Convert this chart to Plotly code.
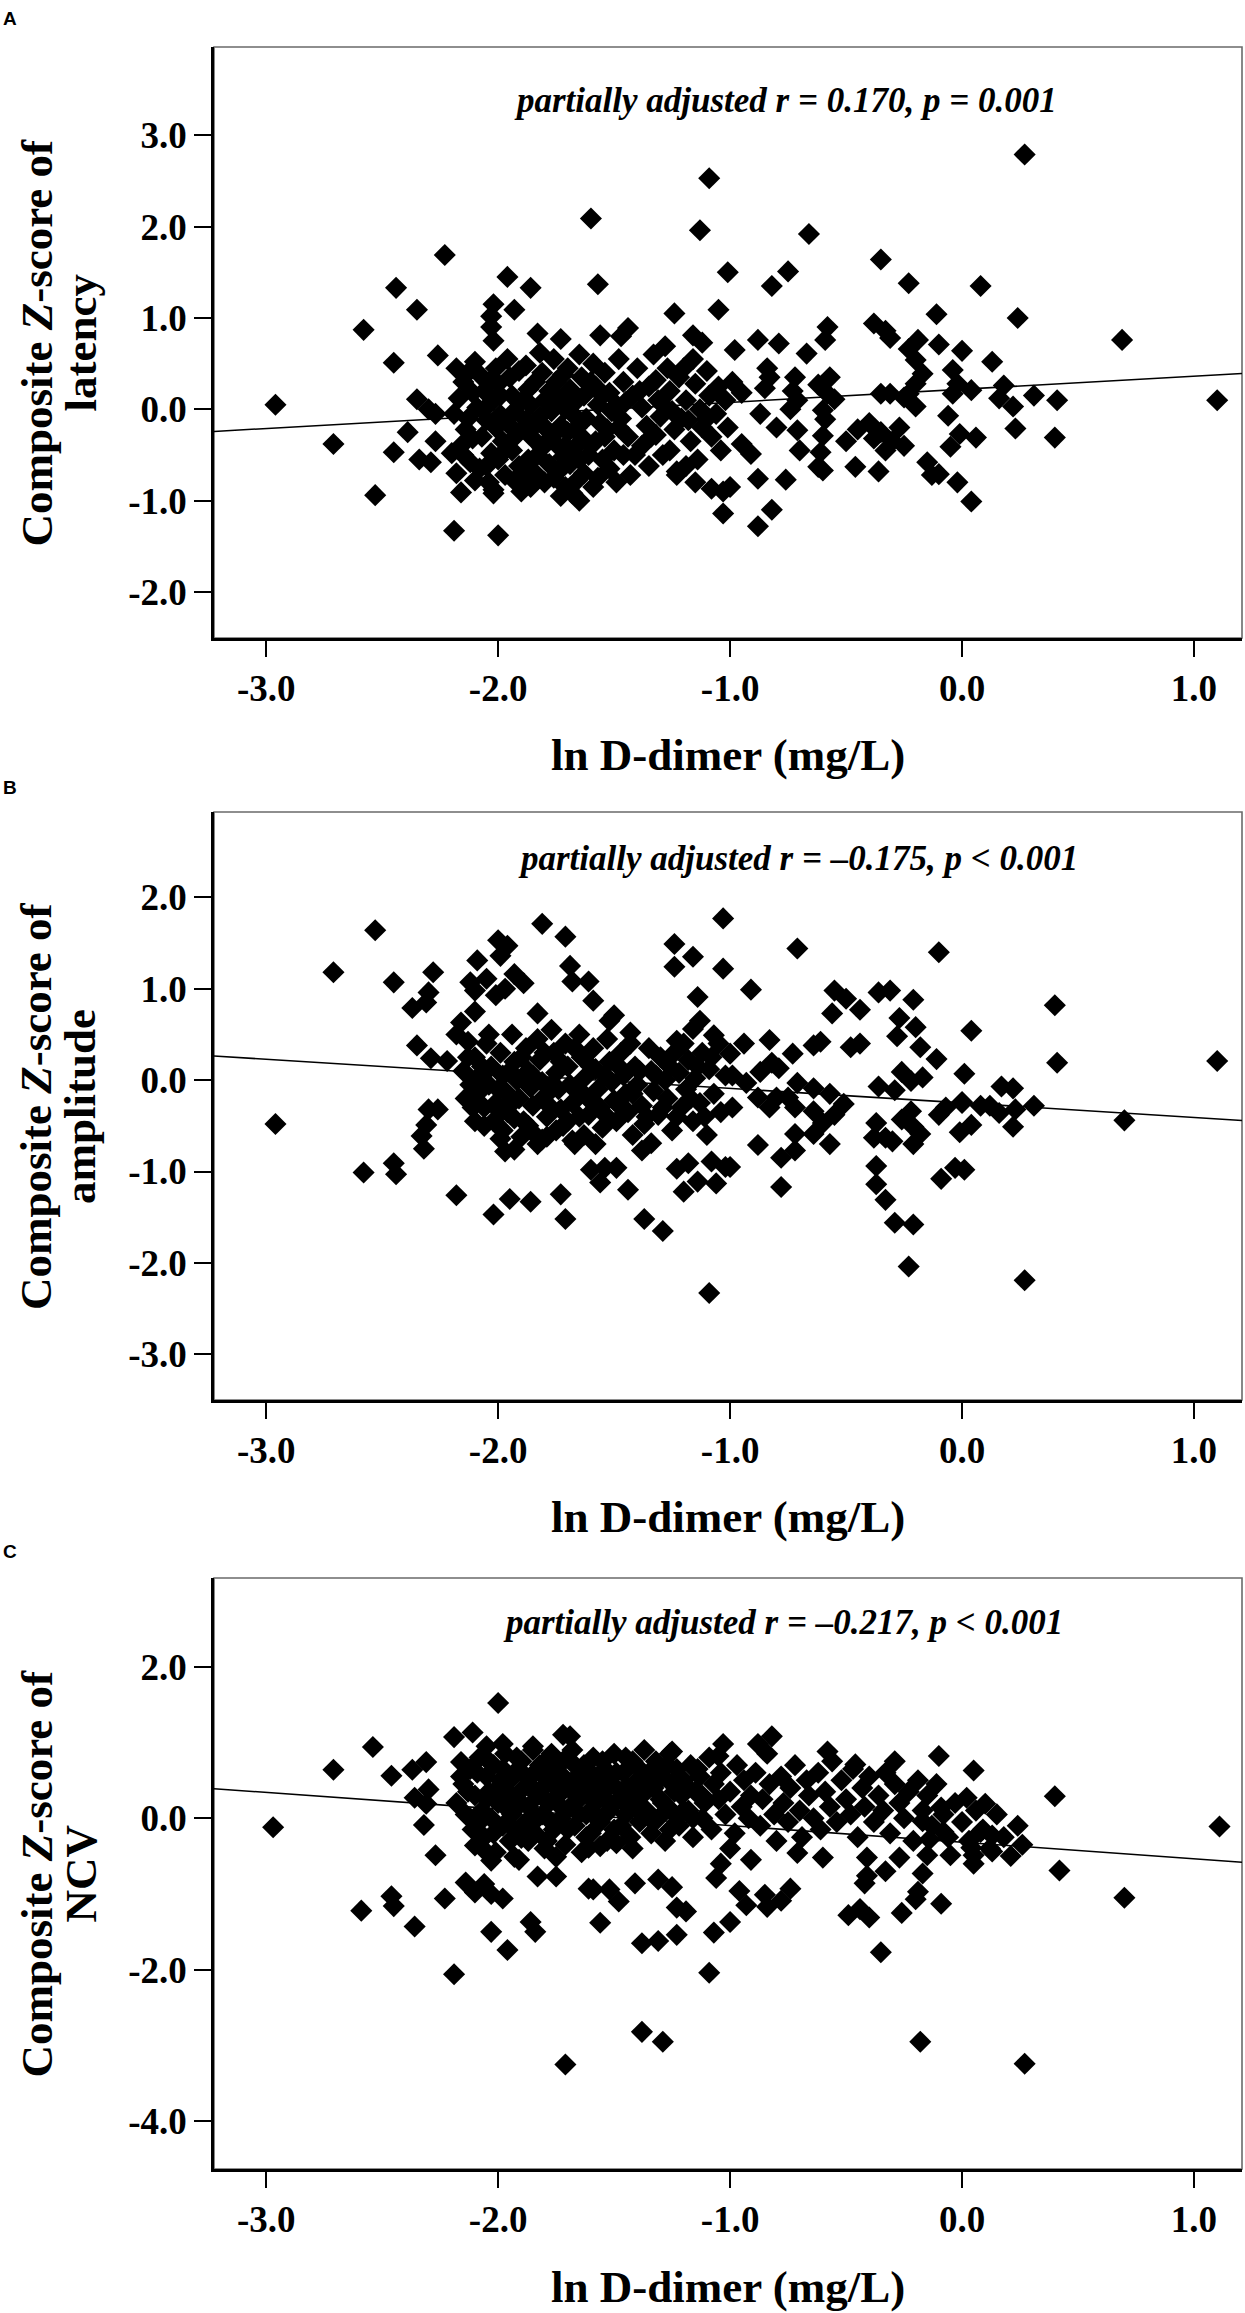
import plotly.graph_objects as go

# ln D-dimer (mg/L) vs composite Z-scores

# panel A - latency
latency_pts = [
    (-2.96, 0.05), (-2.71, -0.38), (-2.53, -0.94), (-2.58, 0.87), (-2.44, 1.33), (-2.35, 1.09),
    (-2.45, 0.51), (-2.23, 1.69), (-2.45, -0.47), (-2.35, 0.11), (-2.26, 0.59), (-2.39, -0.25),
    (-2.34, -0.55), (-2.29, -0.58), (-2.30, 0.00), (-2.27, -0.05), (-2.27, -0.35), (-2.19, -1.33),
    (-2.00, -1.38), (-2.16, -0.91), (-2.02, -0.92), (-1.96, 1.45), (-1.86, 1.33), (-1.93, 1.09),
    (-2.02, 1.15), (-2.03, 1.02), (-2.03, 0.90), (-2.02, 0.75), (-1.60, 2.09), (-1.57, 1.37),
    (-1.09, 2.53), (-1.13, 1.96), (-1.01, 1.50), (-1.83, 0.83), (-1.73, 0.77), (-1.56, 0.81),
    (-1.44, 0.89), (-1.47, 0.80), (-1.24, 1.05), (-1.05, 1.09), (-1.03, -1.14), (-1.08, -0.87),
    (-1.03, -0.90), (-1.28, 0.69), (-1.16, 0.81), (-1.12, 0.73), (-2.20, -0.48), (-1.23, -0.72),
    (-1.19, -0.62), (-1.15, -0.80), (-1.00, -0.85),
    # dense core
    (-2.18, 0.45), (-2.15, 0.30), (-2.17, 0.12), (-2.19, -0.05), (-2.14, -0.22), (-2.16, -0.40),
    (-2.12, -0.58), (-2.18, -0.70), (-2.10, 0.52), (-2.08, 0.38), (-2.06, 0.20), (-2.09, 0.02),
    (-2.05, -0.12), (-2.07, -0.30), (-2.03, -0.48), (-2.08, -0.65), (-2.04, -0.80), (-2.01, 0.45),
    (-2.00, 0.28), (-2.02, 0.10), (-1.99, -0.06), (-2.01, -0.20), (-1.98, -0.35), (-2.00, -0.55),
    (-1.97, -0.72), (-2.02, -0.88), (-1.95, 0.35), (-1.94, 0.15), (-1.93, -0.02), (-1.95, -0.18),
    (-1.92, -0.28), (-1.94, -0.45), (-1.91, -0.62), (-1.93, -0.78), (-1.90, -0.90), (-1.88, 0.48),
    (-1.87, 0.22), (-1.86, 0.05), (-1.88, -0.12), (-1.85, -0.32), (-1.87, -0.55), (-1.84, -0.70),
    (-1.86, -0.85), (-1.82, 0.62), (-1.81, 0.40), (-1.80, 0.10), (-1.82, -0.08), (-1.79, -0.22),
    (-1.81, -0.42), (-1.78, -0.60), (-1.80, -0.80), (-1.76, 0.55), (-1.75, 0.30), (-1.74, 0.12),
    (-1.77, -0.02), (-1.73, -0.18), (-1.75, -0.38), (-1.72, -0.52), (-1.74, -0.68), (-1.71, -0.85),
    (-1.73, -0.95), (-1.70, 0.45), (-1.69, 0.22), (-1.68, -0.05), (-1.70, -0.25), (-1.67, -0.42),
    (-1.69, -0.60), (-1.66, -0.78), (-1.68, -0.92), (-1.65, 0.60), (-1.64, 0.35), (-1.63, 0.15),
    (-1.62, -0.10), (-1.64, -0.30), (-1.61, -0.50), (-1.63, -0.70), (-1.65, -1.00), (-1.59, 0.50),
    (-1.58, 0.25), (-1.57, 0.05), (-1.56, -0.15), (-1.58, -0.35), (-1.55, -0.55), (-1.57, -0.75),
    (-1.54, 0.40), (-1.52, 0.18), (-1.51, -0.02), (-1.53, -0.22), (-1.50, -0.45), (-1.52, -0.65),
    (-1.49, -0.80), (-1.48, 0.55), (-1.46, 0.30), (-1.45, 0.08), (-1.47, -0.10), (-1.44, -0.30),
    (-1.46, -0.50), (-1.43, -0.72), (-1.40, 0.45), (-1.39, 0.20), (-1.38, 0.02), (-1.36, -0.18),
    (-1.38, -0.40), (-1.35, -0.62), (-1.33, 0.60), (-1.32, 0.32), (-1.31, 0.10), (-1.30, -0.08),
    (-1.32, -0.28), (-1.29, -0.50), (-1.27, 0.45), (-1.26, 0.20), (-1.25, -0.02), (-1.24, -0.22),
    (-1.26, -0.45), (-1.23, -0.68), (-1.22, 0.35), (-1.19, 0.10), (-1.18, -0.12), (-1.17, -0.35),
    (-1.16, 0.55), (-1.15, 0.28), (-1.13, 0.00), (-1.12, -0.20), (-1.14, -0.55), (-1.10, 0.42),
    (-1.09, 0.15), (-1.08, -0.30), (-1.06, -0.05), (-1.05, 0.25), (-1.04, -0.45), (-1.02, 0.10),
    (-1.01, -0.20),
    (-2.13, 0.40), (-2.11, 0.18), (-2.13, -0.10), (-2.11, -0.32), (-2.15, -0.50), (-2.10, -0.78),
    (-2.06, 0.00), (-2.04, 0.30), (-2.05, -0.62), (-1.99, 0.15), (-1.97, -0.45), (-1.96, 0.55),
    (-1.91, 0.42), (-1.90, 0.08), (-1.89, -0.20), (-1.89, -0.70), (-1.84, 0.30), (-1.83, -0.15),
    (-1.83, -0.50), (-1.78, 0.20), (-1.77, -0.30), (-1.76, -0.75), (-1.72, 0.38), (-1.71, 0.00),
    (-1.71, -0.40), (-1.66, 0.10), (-1.66, -0.20), (-1.65, -0.55), (-1.60, 0.30), (-1.60, -0.40),
    (-1.59, -0.85), (-1.55, 0.15), (-1.54, -0.30), (-1.48, -0.20), (-1.49, 0.05), (-1.42, 0.15),
    (-1.41, -0.50), (-1.35, 0.25), (-1.34, -0.30), (-1.29, 0.05), (-1.21, -0.10), (-1.20, 0.45),
    (-1.10, -0.10),
    # right half
    (0.27, 2.79), (-0.66, 1.92), (-0.35, 1.64), (-0.75, 1.51), (-0.82, 1.35), (-0.23, 1.38),
    (0.08, 1.35), (-0.11, 1.04), (0.24, 1.00), (0.69, 0.76), (1.10, 0.10), (0.41, 0.10),
    (0.31, 0.15), (0.40, -0.31), (0.23, -0.21), (0.22, 0.03), (0.18, 0.26), (0.16, 0.12),
    (0.13, 0.52), (0.00, 0.64), (-0.04, 0.43), (-0.02, 0.28), (0.04, 0.21), (-0.04, 0.17),
    (-0.06, -0.07), (-0.05, -0.41), (-0.01, -0.27), (0.06, -0.31), (-0.02, -0.80), (0.04, -1.01),
    (-0.10, -0.71), (-0.13, -0.72), (-0.15, -0.58), (-0.36, -0.68), (-0.46, -0.63), (-0.60, -0.67),
    (-0.76, -0.77), (-0.88, -0.76), (-0.82, -1.10), (-0.88, -1.28), (-0.38, 0.94), (-0.33, 0.86),
    (-0.31, 0.78), (-0.19, 0.76), (-0.10, 0.71), (-0.23, 0.66), (-0.20, 0.54), (-0.17, 0.39),
    (-0.20, 0.28), (-0.23, 0.17), (-0.20, 0.03), (-0.35, 0.17), (-0.31, 0.17), (-0.25, 0.13),
    (-0.58, 0.90), (-0.59, 0.76), (-0.67, 0.61), (-0.79, 0.72), (-0.88, 0.76), (-0.98, 0.65),
    (-0.84, 0.45), (-0.83, 0.35), (-0.85, 0.23), (-0.95, 0.18), (-0.99, 0.30), (-0.72, 0.35),
    (-0.73, 0.20), (-0.71, 0.10), (-0.74, 0.00), (-0.62, 0.27), (-0.57, 0.35), (-0.58, 0.17),
    (-0.55, 0.11), (-0.60, -0.01), (-0.59, -0.11), (-0.60, -0.29), (-0.61, -0.47), (-0.62, -0.63),
    (-0.87, -0.05), (-0.80, -0.20), (-0.71, -0.23), (-0.70, -0.45), (-0.95, -0.38), (-0.91, -0.49),
    (-0.40, -0.15), (-0.35, -0.25), (-0.30, -0.35), (-0.27, -0.20), (-0.33, -0.45), (-0.25, -0.40),
    (-0.38, -0.32), (-0.45, -0.22), (-0.50, -0.35),
]

# panel B - amplitude
amplitude_pts = [
    (-2.96, -0.48), (-2.71, 1.18), (-2.53, 1.64), (-2.58, -1.01), (-2.45, -0.91), (-2.44, -1.03),
    (-2.45, 1.07), (-2.28, 1.18), (-2.30, 0.96), (-2.37, 0.79), (-2.31, 0.85), (-2.35, 0.38),
    (-2.29, 0.24), (-2.22, 0.21), (-2.30, -0.32), (-2.26, -0.32), (-2.31, -0.49), (-2.33, -0.61),
    (-2.32, -0.75), (-2.18, -1.26), (-2.02, -1.47), (-1.95, -1.30), (-1.86, -1.33), (-1.73, -1.25),
    (-1.71, -1.52), (-1.37, -1.52), (-1.29, -1.65), (-1.09, -2.33), (-1.44, -1.20), (-1.56, -1.12),
    (-1.60, -0.98), (-1.54, -0.96), (-1.49, -0.96), (-1.23, -0.97), (-1.18, -0.91), (-1.08, -0.89),
    (-1.02, -0.95), (-1.14, -1.11), (-1.06, -1.13), (-1.20, -1.22), (-1.38, -0.77), (-1.34, -0.69),
    (-1.81, 1.71), (-1.71, 1.57), (-1.03, 1.77), (-1.24, 1.49), (-1.16, 1.35), (-1.24, 1.24),
    (-1.03, 1.22), (-1.14, 0.91), (-2.09, 1.31), (-2.00, 1.53), (-1.96, 1.47), (-1.99, 1.36),
    (-1.93, 1.16), (-1.89, 1.06), (-2.12, 1.07), (-2.05, 1.11), (-2.10, 0.98), (-2.01, 0.93),
    (-1.97, 1.00), (-2.16, 0.63), (-2.10, 0.75), (-2.18, 0.50), (-2.13, 0.42), (-1.69, 1.25),
    (-1.68, 1.08), (-1.61, 1.08), (-1.59, 0.87), (-1.83, 0.73), (-1.50, 0.71), (-1.52, 0.65),
    (-1.43, 0.52), (-1.13, 0.65), (-1.16, 0.56), (-1.07, 0.49), (-1.23, 0.43), (-1.99, -0.64),
    (-1.97, -0.78), (-1.93, -0.76), (-1.83, -0.70), (-1.79, -0.62), (-1.68, -0.66), (-2.10, -0.45),
    # dense core
    (-2.15, 0.10), (-2.12, -0.05), (-2.14, -0.20), (-2.10, 0.25), (-2.08, 0.05), (-2.09, -0.15),
    (-2.06, -0.30), (-2.05, 0.40), (-2.03, 0.15), (-2.04, -0.05), (-2.01, -0.25), (-2.02, -0.45),
    (-1.99, 0.30), (-1.98, 0.05), (-1.97, -0.12), (-1.96, -0.35), (-1.98, -0.55), (-1.94, 0.50),
    (-1.93, 0.20), (-1.92, 0.00), (-1.91, -0.20), (-1.93, -0.42), (-1.90, -0.62), (-1.88, 0.35),
    (-1.87, 0.10), (-1.86, -0.08), (-1.85, -0.28), (-1.87, -0.50), (-1.83, 0.45), (-1.82, 0.22),
    (-1.81, -0.02), (-1.80, -0.18), (-1.79, -0.40), (-1.81, -0.65), (-1.77, 0.55), (-1.76, 0.30),
    (-1.75, 0.08), (-1.74, -0.10), (-1.73, -0.32), (-1.75, -0.55), (-1.71, 0.40), (-1.70, 0.15),
    (-1.69, -0.05), (-1.68, -0.25), (-1.70, -0.45), (-1.67, -0.70), (-1.65, 0.50), (-1.64, 0.25),
    (-1.63, 0.02), (-1.62, -0.18), (-1.61, -0.38), (-1.63, -0.60), (-1.59, 0.35), (-1.58, 0.12),
    (-1.57, -0.10), (-1.56, -0.30), (-1.55, -0.52), (-1.53, 0.45), (-1.52, 0.20), (-1.51, -0.02),
    (-1.50, -0.22), (-1.49, -0.45), (-1.47, 0.30), (-1.46, 0.05), (-1.45, -0.15), (-1.44, -0.35),
    (-1.42, -0.60), (-1.41, 0.15), (-1.40, -0.05), (-1.38, -0.28), (-1.37, -0.48), (-1.35, 0.35),
    (-1.34, 0.10), (-1.33, -0.12), (-1.31, -0.38), (-1.30, 0.25), (-1.28, 0.00), (-1.27, -0.20),
    (-1.25, -0.55), (-1.24, 0.30), (-1.22, 0.08), (-1.21, -0.30), (-1.19, -0.10), (-1.18, 0.22),
    (-1.16, -0.45), (-1.15, 0.02), (-1.13, -0.25), (-1.12, 0.30), (-1.10, -0.60), (-1.09, 0.12),
    (-1.07, -0.15), (-1.05, 0.40), (-1.04, -0.35), (-1.02, 0.05),
    (-2.13, 0.25), (-2.11, -0.30), (-2.07, 0.15), (-2.06, -0.50), (-2.04, 0.50), (-2.00, -0.10),
    (-1.99, -0.35), (-1.95, 0.10), (-1.94, -0.25), (-1.90, 0.25), (-1.89, -0.45), (-1.85, 0.05),
    (-1.84, -0.60), (-1.80, 0.30), (-1.78, -0.28), (-1.77, -0.05), (-1.73, 0.20), (-1.72, -0.50),
    (-1.67, 0.35), (-1.66, -0.10), (-1.65, -0.40), (-1.60, 0.15), (-1.59, -0.25), (-1.58, -0.70),
    (-1.54, 0.05), (-1.53, -0.40), (-1.48, 0.15), (-1.47, -0.30), (-1.43, 0.40), (-1.42, -0.15),
    (-1.39, 0.10), (-1.36, -0.40), (-1.32, 0.05), (-1.29, -0.30), (-1.26, 0.15), (-1.23, -0.40),
    (-1.20, 0.40), (-1.17, -0.20), (-1.14, 0.15), (-1.11, -0.40), (-1.08, 0.25),
    # right half
    (-0.71, 1.44), (-0.10, 1.40), (0.40, 0.82), (0.04, 0.54), (0.41, 0.19), (1.10, 0.21),
    (0.70, -0.44), (0.31, -0.28), (0.22, -0.09), (0.17, -0.07), (0.23, -0.32), (0.22, -0.51),
    (0.16, -0.36), (0.12, -0.28), (0.08, -0.28), (0.00, -0.24), (0.04, -0.49), (-0.01, -0.57),
    (0.01, 0.07), (-0.11, 0.23), (-0.18, 0.36), (-0.20, 0.58), (-0.27, 0.68), (-0.28, 0.48),
    (-0.21, 0.88), (-0.36, 0.96), (-0.31, 0.98), (-0.55, 0.98), (-0.50, 0.89), (-0.44, 0.77),
    (-0.56, 0.73), (-0.91, 0.99), (-0.83, 0.44), (-0.94, 0.40), (-1.00, 0.29), (-0.73, 0.29),
    (-0.64, 0.38), (-0.61, 0.42), (-0.48, 0.36), (-0.44, 0.40), (-0.26, 0.09), (-0.22, -0.01),
    (-0.17, 0.03), (-0.36, -0.07), (-0.29, -0.11), (-0.87, 0.09), (-0.82, 0.19), (-0.79, 0.13),
    (-0.99, 0.05), (-0.93, -0.03), (-0.71, -0.03), (-0.64, -0.09), (-0.57, -0.15), (-0.72, -0.30),
    (-0.88, -0.19), (-0.83, -0.30), (-0.80, -0.19), (-0.75, -0.19), (-0.99, -0.30), (-0.64, -0.34),
    (-0.60, -0.47), (-0.55, -0.38), (-0.51, -0.26), (-0.64, -0.59), (-0.57, -0.70), (-0.37, -0.47),
    (-0.38, -0.63), (-0.33, -0.63), (-0.30, -0.67), (-0.26, -0.43), (-0.22, -0.34), (-0.21, -0.51),
    (-0.18, -0.59), (-0.21, -0.70), (-0.37, -0.94), (-0.37, -1.14), (-0.33, -1.31), (-0.29, -1.56),
    (-0.21, -1.58), (-0.23, -2.04), (0.27, -2.19), (-0.09, -1.08), (-0.03, -0.96), (0.01, -0.98),
    (-0.88, -0.71), (-0.72, -0.59), (-0.72, -0.77), (-0.78, -0.85), (-0.78, -1.17), (-1.00, -0.95),
    (-0.10, -0.38), (-0.07, -0.30), (0.00, -0.25),
]

# panel C - NCV
ncv_pts = [
    (-2.97, -0.12), (-2.71, 0.64), (-2.54, 0.94), (-2.46, 0.56), (-2.37, 0.64), (-2.31, 0.74),
    (-2.36, 0.27), (-2.30, 0.38), (-2.31, 0.19), (-2.32, -0.09), (-2.27, -0.49), (-2.59, -1.22),
    (-2.46, -1.03), (-2.45, -1.16), (-2.36, -1.43), (-2.23, -1.06), (-2.19, -2.06), (-2.19, 1.07),
    (-2.11, 1.13), (-2.00, 1.52), (-1.98, 0.98), (-2.05, 0.95), (-2.16, 0.74), (-1.72, 1.10),
    (-1.69, 1.08), (-1.85, 0.95), (-1.79, 0.77), (-2.14, -0.85), (-2.10, -0.98), (-2.06, -0.87),
    (-2.03, -1.00), (-1.98, -1.06), (-2.03, -1.50), (-1.96, -1.74), (-1.86, -1.37), (-1.84, -1.50),
    (-1.71, -3.25), (-1.93, -0.51), (-2.03, -0.56), (-2.06, -0.42), (-2.10, -0.36), (-1.83, -0.77),
    (-1.75, -0.77), (-1.75, -0.51), (-1.79, -0.30), (-1.90, -0.26), (-1.61, -0.93), (-1.56, -1.38),
    (-1.52, -0.94), (-1.61, -0.39),
    (1.11, -0.11), (0.40, 0.29), (0.42, -0.69), (0.70, -1.05), (0.27, -3.24), (-0.18, -2.95),
    (-1.38, -2.82), (-1.29, -2.95), (-1.09, -2.04), (-0.35, -1.77), (-1.38, -1.65), (-1.31, -1.62),
    (-1.23, -1.54), (-1.07, -1.51), (-1.00, -1.37), (-1.23, -1.18), (-1.19, -1.23), (-1.25, -0.91),
    (-1.31, -0.81), (-1.41, -0.86), (-1.48, -1.10), (-1.59, -0.94), (-0.96, -0.96), (-0.93, -1.15),
    (-0.85, -1.01), (-0.84, -1.17), (-0.78, -1.09), (-0.74, -0.93), (-0.49, -1.28), (-0.44, -1.20),
    (-0.40, -1.31), (-0.26, -1.25), (-0.20, -1.07), (-0.09, -1.13), (-0.19, -0.97), (-0.42, -0.86),
    (-0.41, -0.76), (-0.33, -0.70), (-0.41, -0.52), (-0.27, -0.52), (-0.17, -0.73), (-0.15, -0.49),
    (-0.05, -0.49), (0.05, -0.60), (0.04, -0.39), (0.13, -0.44), (-0.60, -0.52), (-0.71, -0.46),
    (-0.91, -0.55), (-1.04, -0.60), (-1.06, -0.79), (-1.00, -0.40), (-1.49, -0.33), (-1.56, -0.37),
    (-0.82, 1.08), (-0.88, 0.98), (-1.03, 0.98), (-1.05, 0.82), (-1.25, 0.88), (-0.10, 0.82),
    (-0.46, 0.71), (-0.29, 0.75), (0.05, 0.63), (-0.58, 0.88), (0.02, 0.27), (0.10, 0.19),
    (-0.09, 0.14), (-0.17, -0.04), (-0.08, -0.18), (0.08, -0.18), (0.13, -0.23), (0.05, -0.49),
    (-0.14, -0.28),
    # dense band
    (-2.18, 0.20), (-2.15, 0.45), (-2.14, 0.05), (-2.12, 0.65), (-2.11, -0.15), (-2.10, 0.30),
    (-2.08, 0.80), (-2.07, 0.10), (-2.06, -0.25), (-2.05, 0.55), (-2.04, 0.35), (-2.03, 0.00),
    (-2.02, 0.70), (-2.01, -0.45), (-2.00, 0.20), (-1.99, 0.50), (-1.98, -0.10), (-1.97, 0.85),
    (-1.96, 0.35), (-1.95, -0.30), (-1.94, 0.05), (-1.93, 0.60), (-1.92, 0.25), (-1.91, -0.55),
    (-1.90, 0.75), (-1.89, 0.40), (-1.88, -0.05), (-1.87, 0.15), (-1.86, 0.55), (-1.85, 0.90),
    (-1.84, -0.20), (-1.83, 0.30), (-1.82, 0.70), (-1.81, 0.05), (-1.80, -0.40), (-1.79, 0.45),
    (-1.78, 0.20), (-1.77, 0.85), (-1.76, -0.15), (-1.75, 0.60), (-1.74, 0.30), (-1.73, 0.00),
    (-1.72, 0.75), (-1.71, -0.35), (-1.70, 0.45), (-1.69, 0.15), (-1.68, 0.90), (-1.67, -0.10),
    (-1.66, 0.55), (-1.65, 0.25), (-1.64, -0.45), (-1.63, 0.70), (-1.62, 0.05), (-1.61, 0.40),
    (-1.60, -0.20), (-1.59, 0.80), (-1.58, 0.20), (-1.57, 0.55), (-1.56, -0.05), (-1.55, 0.35),
    (-1.54, 0.65), (-1.53, -0.30), (-1.52, 0.10), (-1.51, 0.45), (-1.50, 0.85), (-1.48, 0.25),
    (-1.47, -0.10), (-1.46, 0.60), (-1.45, 0.05), (-1.44, 0.40), (-1.43, -0.25), (-1.42, 0.75),
    (-1.41, 0.15), (-1.40, 0.50), (-1.39, -0.05), (-1.38, 0.30), (-1.37, 0.90), (-1.36, 0.10),
    (-1.35, 0.60), (-1.34, -0.20), (-1.33, 0.40), (-1.32, 0.75), (-1.31, 0.00), (-1.30, 0.25),
    (-1.29, 0.55), (-1.28, -0.30), (-1.27, 0.15), (-1.26, 0.85), (-1.25, 0.45), (-1.24, 0.05),
    (-1.23, 0.65), (-1.22, -0.10), (-1.21, 0.30), (-1.20, 0.50), (-1.18, 0.10), (-1.17, 0.70),
    (-1.16, -0.25), (-1.15, 0.35), (-1.13, 0.55), (-1.12, 0.00), (-1.11, 0.20), (-1.09, 0.80),
    (-1.08, -0.15), (-1.07, 0.45), (-1.05, 0.25), (-1.04, 0.60), (-1.02, 0.05), (-1.00, 0.35),
    (-0.98, -0.20), (-0.97, 0.70), (-0.95, 0.15), (-0.94, 0.50), (-0.92, 0.00), (-0.91, 0.30),
    (-0.89, 0.60), (-0.87, -0.10), (-0.86, 0.25), (-0.84, 0.85), (-0.83, 0.45), (-0.81, 0.05),
    (-0.80, -0.30), (-0.78, 0.55), (-0.77, 0.20), (-0.75, -0.05), (-0.74, 0.40), (-0.72, 0.70),
    (-0.70, 0.10), (-0.69, -0.25), (-0.67, 0.50), (-0.66, 0.30), (-0.64, 0.00), (-0.62, 0.60),
    (-0.61, -0.15), (-0.59, 0.35), (-0.57, 0.15), (-0.56, 0.75), (-0.54, -0.05), (-0.52, 0.50),
    (-0.50, 0.25), (-0.48, 0.05), (-0.47, 0.65), (-0.45, -0.25), (-0.43, 0.40), (-0.42, 0.15),
    (-0.40, 0.55), (-0.38, -0.05), (-0.36, 0.30), (-0.34, 0.10), (-0.33, 0.60), (-0.31, -0.20),
    (-0.29, 0.45), (-0.27, 0.20), (-0.25, 0.00), (-0.23, 0.35), (-0.21, -0.30), (-0.19, 0.50),
    (-0.17, 0.10), (-0.15, 0.30), (-0.13, -0.10), (-0.11, 0.45), (-0.08, 0.05), (-0.06, -0.25),
    (-0.03, 0.20), (0.00, -0.05), (0.03, -0.30), (0.06, 0.10), (0.09, -0.15), (0.12, -0.40),
    (0.15, 0.05), (0.18, -0.25), (0.21, -0.50), (0.24, -0.10), (0.26, -0.35),
    (-2.16, 0.55), (-2.13, 0.35), (-2.12, 0.00), (-2.09, 0.60), (-2.08, -0.05), (-2.05, 0.25),
    (-2.04, 0.75), (-2.02, -0.20), (-2.00, 0.40), (-1.98, 0.65), (-1.97, 0.15), (-1.95, 0.50),
    (-1.93, -0.15), (-1.92, 0.80), (-1.90, 0.20), (-1.88, 0.55), (-1.87, -0.30), (-1.85, 0.40),
    (-1.83, 0.00), (-1.82, 0.60), (-1.80, 0.25), (-1.78, 0.70), (-1.77, -0.05), (-1.75, 0.40),
    (-1.73, 0.15), (-1.72, 0.55), (-1.70, -0.15), (-1.68, 0.35), (-1.67, 0.70), (-1.65, 0.05),
    (-1.63, 0.45), (-1.62, -0.25), (-1.60, 0.60), (-1.58, 0.30), (-1.57, 0.00), (-1.55, 0.75),
    (-1.53, 0.45), (-1.52, 0.20), (-1.50, -0.15), (-1.49, 0.60), (-1.47, 0.35), (-1.45, 0.80),
    (-1.44, 0.15), (-1.42, -0.40), (-1.40, 0.30), (-1.39, 0.65), (-1.37, 0.05), (-1.35, 0.40),
    (-1.33, -0.05), (-1.31, 0.55), (-1.29, 0.20), (-1.27, 0.70), (-1.26, -0.15), (-1.24, 0.35),
    (-1.22, 0.55), (-1.20, 0.10), (-1.18, 0.40), (-1.16, 0.00), (-1.14, 0.65), (-1.12, 0.30),
]

# fitted lines (intercept, slope) as drawn in the figure
fit_latency = (0.219, 0.143)
fit_amplitude = (-0.249, -0.159)
fit_ncv = (-0.317, -0.219)

stat_latency = "partially adjusted r = 0.170, p = 0.001"
stat_amplitude = "partially adjusted r = \u20130.175, p < 0.001"
stat_ncv = "partially adjusted r = \u20130.217, p < 0.001"

x_ticks = [-3.0, -2.0, -1.0, 0.0, 1.0]
y_ticks_latency = [-2.0, -1.0, 0.0, 1.0, 2.0, 3.0]
y_ticks_amplitude = [-3.0, -2.0, -1.0, 0.0, 1.0, 2.0]
y_ticks_ncv = [-4.0, -2.0, 0.0, 2.0]

x_range = [-3.225, 1.207]

SERIF = "Liberation Serif, Times New Roman, serif"
W, H = 1245, 2313

panels = [
    dict(pts=latency_pts, fit=fit_latency, stat=stat_latency, yt=y_ticks_latency,
         yr=[-2.504, 3.967], top=47, bot=638, letter="A", line2="latency",
         stat_xy=(785, 101), letter_y=19),
    dict(pts=amplitude_pts, fit=fit_amplitude, stat=stat_amplitude, yt=y_ticks_amplitude,
         yr=[-3.50, 2.934], top=812, bot=1400, letter="B", line2="amplitude",
         stat_xy=(798, 858), letter_y=787),
    dict(pts=ncv_pts, fit=fit_ncv, stat=stat_ncv, yt=y_ticks_ncv,
         yr=[-4.63, 3.17], top=1578, bot=2169, letter="C", line2="NCV",
         stat_xy=(783, 1623), letter_y=1552),
]

fig = go.Figure()
annotations = []
shapes = []
x_dom = [214 / W, 1242 / W]

for i, p in enumerate(panels):
    n = "" if i == 0 else str(i + 1)
    xa, ya = "x" + n, "y" + n
    xs = [q[0] for q in p["pts"]]
    ys = [q[1] for q in p["pts"]]
    a, b = p["fit"]
    lx = x_range
    ly = [a + b * v for v in lx]

    fig.add_trace(go.Scatter(x=xs, y=ys, mode="markers", xaxis=xa, yaxis=ya,
                             marker=dict(symbol="diamond", size=17, color="black"),
                             showlegend=False))
    fig.add_trace(go.Scatter(x=lx, y=ly, mode="lines", xaxis=xa, yaxis=ya,
                             line=dict(color="black", width=1.6), showlegend=False))

    y_dom = [1 - p["bot"] / H, 1 - p["top"] / H]
    axis_font = dict(family=SERIF, size=37, color="black", weight="bold")
    fig.update_layout(**{
        "xaxis" + n: dict(domain=x_dom, range=x_range, anchor=ya, tickvals=x_ticks,
                          ticktext=[f"{v:.1f}" for v in x_ticks], ticks="outside",
                          ticklen=16, tickwidth=2, tickcolor="black", showline=True,
                          linecolor="black", linewidth=2.5, showgrid=False, zeroline=False,
                          tickfont=axis_font),
        "yaxis" + n: dict(domain=y_dom, range=p["yr"], anchor=xa, tickvals=p["yt"],
                          ticktext=[f"{v:.1f}" for v in p["yt"]], ticks="outside",
                          ticklen=17, tickwidth=2, tickcolor="black", showline=True,
                          linecolor="black", linewidth=2.5, showgrid=False, zeroline=False,
                          tickfont=axis_font),
    })

    shapes.append(dict(type="rect", xref=xa + " domain", yref=ya + " domain",
                       x0=0, x1=1, y0=0, y1=1, layer="below",
                       line=dict(color="#6a6a6a", width=1.6)))

    mid = (p["top"] + p["bot"]) / 2
    title_font = dict(family=SERIF, size=45, color="black", weight="bold")
    if i < 2:
        xt = dict(y=1 - (p["bot"] + 117) / H, yanchor="middle")
    else:
        xt = dict(y=0, yanchor="bottom")
    annotations += [
        dict(text="Composite <i>Z</i>-score of", x=36 / W, y=1 - mid / H, xref="paper",
             yref="paper", textangle=-90, showarrow=False, font=title_font,
             xanchor="center", yanchor="middle"),
        dict(text=p["line2"], x=80 / W, y=1 - mid / H, xref="paper", yref="paper",
             textangle=-90, showarrow=False, font=title_font,
             xanchor="center", yanchor="middle"),
        dict(text="ln D-dimer (mg/L)", x=728 / W, xref="paper", yref="paper",
             showarrow=False, font=title_font, xanchor="center", borderpad=0, **xt),
        dict(text="<i>" + p["stat"] + "</i>", x=p["stat_xy"][0] / W,
             y=1 - p["stat_xy"][1] / H, xref="paper", yref="paper", showarrow=False,
             font=dict(family=SERIF, size=35, color="black", weight="bold"),
             xanchor="center", yanchor="middle"),
        dict(text="<b>" + p["letter"] + "</b>", x=10 / W, y=1 - p["letter_y"] / H,
             xref="paper", yref="paper", showarrow=False,
             font=dict(family="Liberation Sans, Arial, sans-serif", size=19, color="black"),
             xanchor="center", yanchor="middle"),
    ]

fig.update_layout(width=W, height=H, margin=dict(l=0, r=0, t=0, b=0),
                  plot_bgcolor="white", paper_bgcolor="white", showlegend=False,
                  annotations=annotations, shapes=shapes)

# the page's default body margin pushes the figure off the bottom edge
fig.write_html("out.html", config={"displayModeBar": False},
               post_script="document.body.style.margin='0';document.body.style.overflow='hidden';")
